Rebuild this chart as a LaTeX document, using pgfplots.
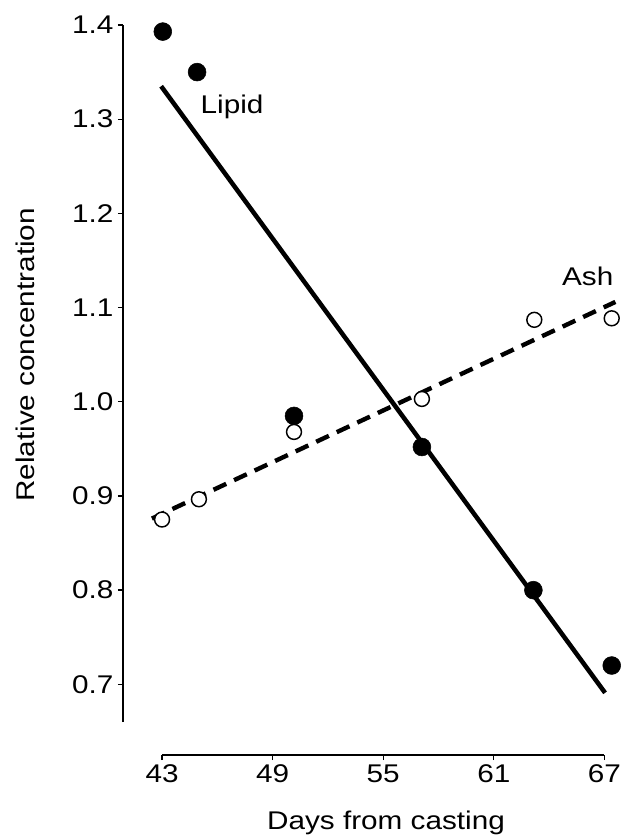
\documentclass[border=0pt]{standalone}
\usepackage{pgfplots}
\pgfplotsset{compat=1.18}
\usepackage{fontspec}
\setmainfont[FakeStretch=1.16]{Liberation Sans}
\begin{document}
\begin{tikzpicture}[font=\fontsize{19.2}{23}\selectfont]
\useasboundingbox (-92.25pt,-60pt) rectangle (379.5pt,566.25pt);
\begin{axis}[
  at={(0,0)}, anchor=south west,
  scale only axis, width=361pt, height=547.5pt,
  xmin=40.88, xmax=67, ymin=0.625, ymax=1.4,
  clip=false,
  separate axis lines,
  axis x line*=bottom, axis y line*=left,
  x axis line style={shorten <=29.3pt, line width=1pt},
  y axis line style={shorten <=24.7pt, line width=1pt},
  tick style={line width=1pt, black},
  tick align=outside, major tick length=3.75pt,
  xtick={43,49,55,61,67},
  ytick={0.7,0.8,0.9,1.0,1.1,1.2,1.3,1.4},
  /pgf/number format/assume math mode=true,
  yticklabel style={/pgf/number format/fixed, /pgf/number format/fixed zerofill, /pgf/number format/precision=1},
  xlabel={Days from casting},
  ylabel={Relative concentration},
  xlabel style={at={(rel axis cs:0.5464,-0.1027)}, anchor=base},
  ylabel style={at={(rel axis cs:-0.2036,0.548)}, anchor=center},
]
\addplot[black, line width=3.4pt] coordinates {(42.95,1.335) (67.04,0.691)};
\addplot[black, line width=3.3pt, dash pattern=on 10.5pt off 6.5pt] coordinates {(42.45,0.876) (67.6,1.106)};
\addplot[only marks, mark=*, mark size=6.7pt, black] coordinates {(43.04,1.393) (44.9,1.350) (50.16,0.985) (57.1,0.952) (63.15,0.800) (67.4,0.720)};
\addplot[only marks, mark=*, mark size=5.6pt, mark options={draw=black, fill=white, line width=1.1pt}] coordinates {(43.0,0.875) (45.0,0.8965) (50.16,0.968) (57.1,1.003) (63.2,1.087) (67.4,1.0886)};
\node at (axis cs:46.8,1.313) {Lipid};
\node at (axis cs:66.1,1.1335) {Ash};
\end{axis}
\end{tikzpicture}
\end{document}
